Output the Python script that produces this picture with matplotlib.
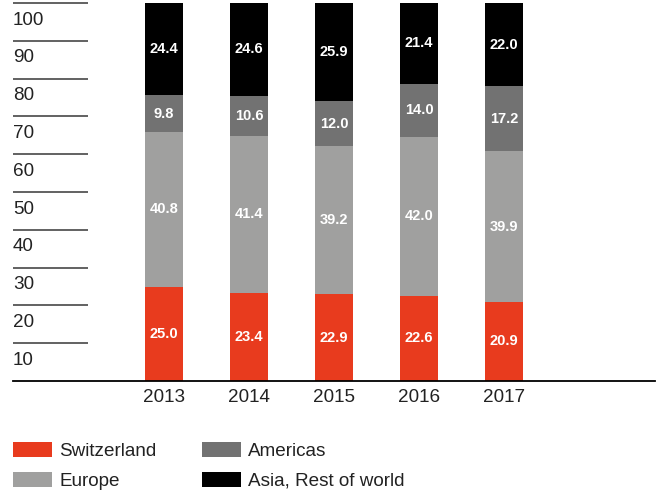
import matplotlib
matplotlib.use("Agg")
import matplotlib.pyplot as plt
import matplotlib.transforms as mtransforms
import numpy as np

# ==========================================================
# Data
# ==========================================================

years = ["2013", "2014", "2015", "2016", "2017"]
switzerland = [25.0, 23.4, 22.9, 22.6, 20.9]
europe = [40.8, 41.4, 39.2, 42.0, 39.9]
americas = [9.8, 10.6, 12.0, 14.0, 17.2]
asia = [24.4, 24.6, 25.9, 21.4, 22.0]
y_ticks = [10, 20, 30, 40, 50, 60, 70, 80, 90, 100]

series = [
    ("Switzerland", switzerland, "#E83B1E"),
    ("Europe", europe, "#A0A09F"),
    ("Americas", americas, "#727272"),
    ("Asia, Rest of world", asia, "#000000"),
]

plt.rcParams["font.family"] = ["Liberation Sans", "DejaVu Sans"]

# ==========================================================
# Figure
# ==========================================================

W, H = 659, 492
fig = plt.figure(figsize=(W / 100, H / 100), dpi=100)
ax = fig.add_axes([13 / W, 1 - 381 / H, 642 / W, 378 / H])

x = np.arange(len(years))
step = 85.0
ax.set_xlim(-151 / step, 4 + 151 / step)
ax.set_ylim(0, 100)

bottom = np.zeros(len(years))
handles = []
for name, vals, color in series:
    vals = np.array(vals)
    bars = ax.bar(x, vals, width=38 / step, bottom=bottom, color=color,
                  label=name, zorder=2)
    handles.append(bars)
    for xi, b, v in zip(x, bottom, vals):
        ax.text(xi, b + v / 2, f"{v:.1f}", ha="center", va="center",
                color="white", fontsize=10.5, fontweight="bold", zorder=3)
    bottom += vals

# short grid lines with labels below them
trans = mtransforms.blended_transform_factory(ax.transAxes, ax.transData)
for t in y_ticks:
    ax.plot([0, 75 / 642], [t, t], transform=trans, color="#555555",
            lw=1.3, clip_on=False, solid_capstyle="butt")
    ax.text(0, t - 2.3, str(t), transform=trans, ha="left", va="top",
            fontsize=13.6, color="#222222")

for s in ["top", "left", "right"]:
    ax.spines[s].set_visible(False)
ax.spines["bottom"].set_color("black")
ax.spines["bottom"].set_linewidth(1.3)
ax.set_yticks([])
ax.set_xticks(x)
ax.set_xticklabels(years, fontsize=13.6, color="#222222")
ax.tick_params(axis="x", length=0, pad=6)

# ==========================================================
# Legend
# ==========================================================

fig.legend(handles=handles, labels=[s[0] for s in series], ncol=2,
           loc="upper left", bbox_to_anchor=(-2 / W, 1 - 427 / H),
           frameon=False, fontsize=13.6, handlelength=2.05,
           handleheight=0.8, handletextpad=0.4, columnspacing=2.4,
           labelspacing=0.65, borderpad=0.3, labelcolor="#222222")

plt.savefig("out.png", dpi=100)
